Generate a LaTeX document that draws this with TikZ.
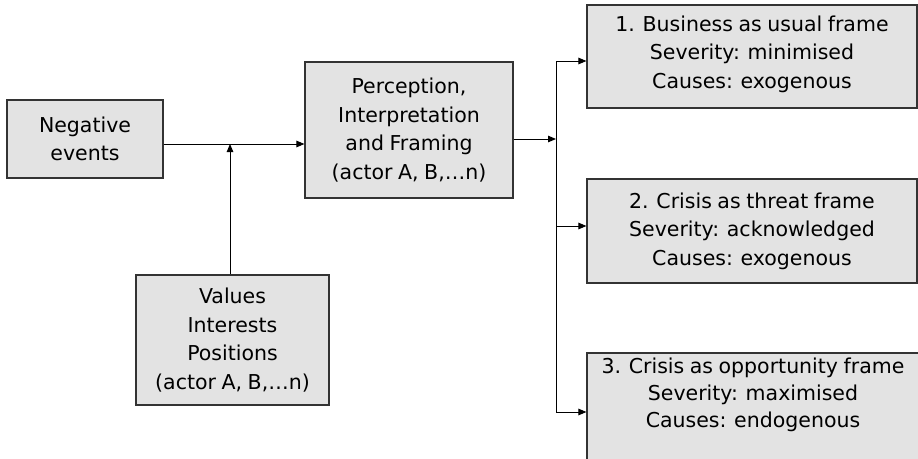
\documentclass[tikz,border=0pt]{standalone}
\usepackage{fontspec}
\setmainfont{DejaVu Sans}[WordSpace=0.85]
\usetikzlibrary{arrows.meta}
\definecolor{boxfill}{HTML}{E3E3E3}
\definecolor{boxline}{HTML}{333333}
\begin{document}
\begin{tikzpicture}[x=1pt,y=-1pt,
  box/.style={draw=boxline, fill=boxfill, line width=1.1pt, inner sep=0pt, align=center, font=\fontsize{20.5}{28.5}\selectfont},
  txt/.style={inner sep=0pt, align=center, font=\fontsize{20.5}{27}\selectfont},
  conn/.style={draw=black, line width=1pt},
  arr/.style={conn, -{Triangle[length=8pt,width=6.5pt]}}]
\useasboundingbox (0,0) rectangle (918,458);
\clip (0,0) rectangle (918,458);
\fill[white] (0,0) rectangle (918,458);

\node[box, minimum width=156pt, minimum height=78pt] (neg) at (85,139) {Negative\\events};
\node[box, minimum width=208pt, minimum height=136pt] (per) at (409,130) {Perception,\\Interpretation\\and Framing\\(actor A, B,…n)};
\node[box, minimum width=193pt, minimum height=130pt] (val) at (232.5,340) {Values\\Interests\\Positions\\(actor A, B,…n)};
\node[box, minimum width=330pt, minimum height=103pt] (b1) at (752,56.5) {1. Business as usual frame\\Severity: minimised\\Causes: exogenous\\[-19pt]};
\node[box, minimum width=330pt, minimum height=104pt] (b2) at (752,231) {2. Crisis as threat frame\\Severity: acknowledged\\Causes: exogenous};
\node[box, minimum width=343pt, minimum height=117pt] (b3) at (758.5,411.5) {};
\node[txt] (t3) at (753,395) {3. Crisis as opportunity frame\\Severity: maximised\\Causes: endogenous};

\coordinate (j1) at (230,144);
\coordinate (sp) at (556,139);
\coordinate (s1) at (556,61);
\coordinate (s2) at (556,226);
\coordinate (s3) at (556,412);

\draw[arr] (neg.east |- j1) -- (per.west |- j1);
\draw[arr] (val.north -| j1) -- (j1);
\draw[arr] (per.east |- sp) -- (sp);
\draw[conn] (s1) -- (s3);
\draw[arr] (s1) -- (b1.west |- s1);
\draw[arr] (s2) -- (b2.west |- s2);
\draw[arr] (s3) -- (b3.west |- s3);
\end{tikzpicture}
\end{document}
